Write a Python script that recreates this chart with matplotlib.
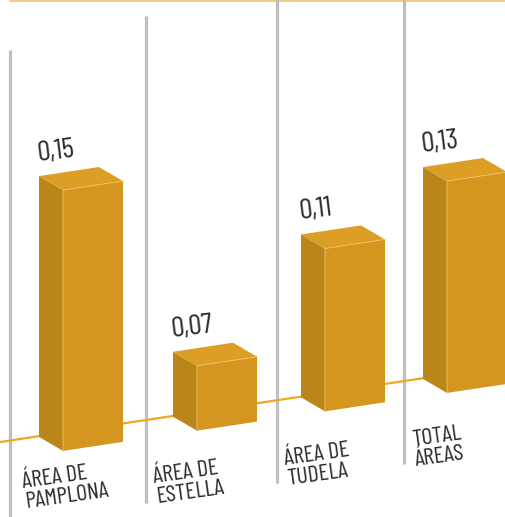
import numpy as np
import matplotlib
matplotlib.use('Agg')
import matplotlib.pyplot as plt
from matplotlib.transforms import Affine2D
from matplotlib.patches import Polygon

# ---- data ----
categories = ['ÁREA DE\nPAMPLONA', 'ÁREA DE\nESTELLA', 'ÁREA DE\nTUDELA', 'TOTAL\nÁREAS']
values = [0.15, 0.07, 0.11, 0.13]
value_labels = ['0,15', '0,07', '0,11', '0,13']

# ---- layout / style ----
W, H = 506, 517
bar_x = [63, 197, 325, 447]      # front-left edge of each bar (px)
bar_w = 60
base = 0.0435                    # value where bars start
depth_dx = -24
depth_dy = 0.0072
shear = 0.151
sep_x = [10, 146, 277, 404]
sep_top = [50, 16, -17, -49]
sep_bot = [517, 503, 483, 464]
lab_x = [26, 157, 288, 416]
lab_y = [509, 504, 486, 467]     # anchor of label block (px from top)

FRONT = '#D4961F'
SIDE = '#BA861A'
TOP = '#DC9E24'
EDGE = '#F0C466'
LINE = '#F0A623'
GRAY = '#BFBFC3'
TXT = '#2B2B2B'

plt.rcParams['font.family'] = ['Barlow Condensed', 'Roboto Condensed', 'DejaVu Sans']

fig = plt.figure(figsize=(W / 100, H / 100), dpi=100)
ax = fig.add_axes([0, 0, 1, 1])
ax.set_xlim(0, W)
ax.set_ylim(0.0204, 0.2315)
ax.autoscale(False)
ax.axis('off')

trans = ax.transData + Affine2D().skew(0, np.arctan(shear))
pix = Affine2D().scale(1, -1).translate(0, H)

# top decorative line
ax.plot([10, W], [0.8, 0.8], transform=pix, color='#F6C878', lw=1.3, zorder=1)

# separators
for x, t, b in zip(sep_x, sep_top, sep_bot):
    ax.plot([x, x], [t, b], transform=pix, color=GRAY, lw=2.3,
            solid_capstyle='butt', zorder=1)

# baseline
ax.plot([0, W], [0.051, 0.051], transform=trans, color=LINE, lw=1.6, zorder=2)

# bars (front faces)
heights = [v - base for v in values]
ax.bar(bar_x, heights, bottom=base, width=bar_w, align='edge', color=FRONT,
       transform=trans, zorder=3, linewidth=0)

for x, v in zip(bar_x, values):
    side = Polygon([(x, base), (x, v), (x + depth_dx, v + depth_dy),
                    (x + depth_dx, base + depth_dy)], closed=True,
                   facecolor=SIDE, edgecolor='none', transform=trans, zorder=3)
    top = Polygon([(x, v), (x + bar_w, v), (x + bar_w + depth_dx, v + depth_dy),
                   (x + depth_dx, v + depth_dy)], closed=True,
                  facecolor=TOP, edgecolor='none', transform=trans, zorder=3)
    ax.add_patch(side)
    ax.add_patch(top)
    ax.plot([x, x, x + bar_w], [base, v, v], transform=trans, color=EDGE,
            lw=0.6, zorder=4)

# value labels
for x, v, lab in zip(bar_x, values, value_labels):
    ax.annotate(lab, xy=(x, v), xycoords=trans, xytext=(-25, 29),
                textcoords='offset pixels', ha='left', va='baseline',
                rotation=7, rotation_mode='anchor', fontsize=21, color=TXT)

# category labels
for x, y, c in zip(lab_x, lab_y, categories):
    ax.text(x, y, c, transform=pix, ha='left', va='baseline', rotation=8,
            rotation_mode='anchor', fontsize=17, color=TXT, linespacing=0.95)

fig.savefig('out.png', dpi=100)
